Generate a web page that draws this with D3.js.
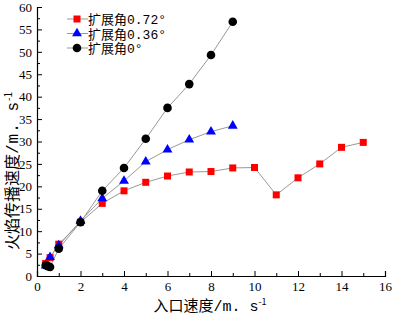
<!DOCTYPE html>
<html>
<head>
<meta charset="utf-8">
<script src="https://cdn.jsdelivr.net/npm/d3@7"></script>
<style>
  body { margin: 0; background: #fff; }
  svg { display: block; }
</style>
</head>
<body>
<div id="chart"></div>
<script>
const width = 393, height = 315;
const margin = {top: 7, right: 8, bottom: 39, left: 37};
const innerWidth = width - margin.left - margin.right;
const innerHeight = height - margin.top - margin.bottom;

// data
const seriesNames = ["扩展角0.72°", "扩展角0.36°", "扩展角0°"];
const x072 = [0.4, 0.6, 1, 2, 3, 4, 5, 6, 7, 8, 9, 10, 11, 12, 13, 14, 15];
const y072 = [2.8, 4.1, 7.1, 12.0, 16.2, 19.0, 20.9, 22.3, 23.2, 23.3, 24.1, 24.2, 18.1, 21.9, 25.0, 28.7, 29.8];
const x036 = [0.4, 0.6, 1, 2, 3, 4, 5, 6, 7, 8, 9];
const y036 = [2.3, 4.2, 6.8, 12.3, 17.3, 21.2, 25.5, 28.2, 30.4, 32.2, 33.5];
const x0 = [0.4, 0.5, 0.6, 1, 2, 3, 4, 5, 6, 7, 8, 9];
const y0 = [2.4, 2.2, 2.0, 6.1, 12.0, 19.0, 24.1, 30.6, 37.5, 42.8, 49.3, 56.7];
const xTicks = [0, 2, 4, 6, 8, 10, 12, 14, 16];
const yTicks = [0, 5, 10, 15, 20, 25, 30, 35, 40, 45, 50, 55, 60];

const series = [
  {name: seriesNames[0], xs: x072, ys: y072, shape: "square", color: "#ff0000"},
  {name: seriesNames[1], xs: x036, ys: y036, shape: "triangle", color: "#0000ff"},
  {name: seriesNames[2], xs: x0, ys: y0, shape: "circle", color: "#000000"}
];

const svg = d3.select("#chart")
  .append("svg")
  .attr("width", width)
  .attr("height", height);

const g = svg.append("g")
  .attr("transform", `translate(${margin.left},${margin.top})`);

// Scales
const x = d3.scaleLinear().domain([0, 16]).range([0, innerWidth]);
const y = d3.scaleLinear().domain([0, 60]).range([innerHeight, 0]);

const tickFont = "'Liberation Serif', 'DejaVu Serif', serif";
const monoFont = "'Liberation Mono', 'Noto Sans CJK SC', monospace";

// X-axis (major + minor ticks, pointing inward)
g.append("g")
  .attr("transform", `translate(0,${innerHeight})`)
  .call(d3.axisBottom(x).tickValues(xTicks).tickSize(-5).tickPadding(6).tickFormat(d3.format("d")));
g.append("g")
  .attr("transform", `translate(0,${innerHeight})`)
  .call(d3.axisBottom(x).tickValues(d3.range(1, 16, 2)).tickSize(-3).tickFormat(""))
  .call(a => a.select(".domain").remove());

// Y-axis
g.append("g")
  .call(d3.axisLeft(y).tickValues(yTicks).tickSize(-5).tickPadding(5).tickFormat(d3.format("d")));
g.append("g")
  .call(d3.axisLeft(y).tickValues(d3.range(2.5, 60, 5)).tickSize(-3).tickFormat(""))
  .call(a => a.select(".domain").remove());

g.selectAll(".domain").attr("stroke", "#000").attr("stroke-width", 1.2);
g.selectAll(".tick line").attr("stroke", "#000");
g.selectAll(".tick text")
  .style("font-family", tickFont)
  .style("font-size", "13px")
  .attr("fill", "#000");

// Axis titles
const labelFont = "'Noto Sans CJK SC', serif";
const xLabel = g.append("text")
  .attr("x", 210 - margin.left)
  .attr("y", innerHeight + 35)
  .attr("text-anchor", "middle")
  .style("font-family", labelFont)
  .style("font-size", "15px")
  .attr("fill", "#000");
xLabel.append("tspan").text("入口速度");
xLabel.append("tspan").style("font-family", monoFont).text("/m. s");
xLabel.append("tspan").attr("dy", -6).style("font-size", "9px").text("-1");

const yLabel = g.append("text")
  .attr("transform", `translate(${18 - margin.left},${171 - margin.top}) rotate(-90)`)
  .attr("text-anchor", "middle")
  .style("font-family", labelFont)
  .style("font-size", "16px")
  .attr("fill", "#000");
yLabel.append("tspan").text("火焰传播速度");
yLabel.append("tspan").style("font-family", monoFont).attr("letter-spacing", 1).text("/m. s");
yLabel.append("tspan").attr("dy", -6).style("font-size", "10px").text("-1");

// marker drawing
function drawMarker(sel, shape, color) {
  if (shape === "square") {
    sel.append("rect")
      .attr("x", -3.5).attr("y", -3.5)
      .attr("width", 7).attr("height", 7)
      .attr("fill", color);
  } else if (shape === "triangle") {
    sel.append("path")
      .attr("d", d3.symbol(d3.symbolTriangle, 42)())
      .attr("fill", color);
  } else {
    sel.append("circle").attr("r", 4.3).attr("fill", color);
  }
}

const line = d3.line().x(d => x(d[0])).y(d => y(d[1]));

// lines first, then markers
series.forEach(s => {
  const pts = s.xs.map((v, i) => [v, s.ys[i]]);
  g.append("path")
    .datum(pts)
    .attr("d", line)
    .attr("fill", "none")
    .attr("stroke", "#999")
    .attr("stroke-width", 1);
});
series.forEach(s => {
  const pts = s.xs.map((v, i) => [v, s.ys[i]]);
  g.selectAll(null)
    .data(pts)
    .join("g")
    .attr("transform", d => `translate(${x(d[0])},${y(d[1])})`)
    .each(function() { drawMarker(d3.select(this), s.shape, s.color); });
});

// Legend
const legend = g.append("g").attr("transform", `translate(${67 - margin.left},${19 - margin.top})`);
series.forEach((s, i) => {
  const row = legend.append("g").attr("transform", `translate(0,${i * 14.5})`);
  row.append("line")
    .attr("x1", 0).attr("x2", 21)
    .attr("stroke", "#999").attr("stroke-width", 1);
  drawMarker(row.append("g").attr("transform", "translate(10,0)"), s.shape, s.color);
  row.append("text")
    .attr("x", 21)
    .attr("y", 5)
    .style("font-family", monoFont)
    .style("font-size", "13px")
    .attr("fill", "#000")
    .text(s.name);
});
</script>
</body>
</html>
